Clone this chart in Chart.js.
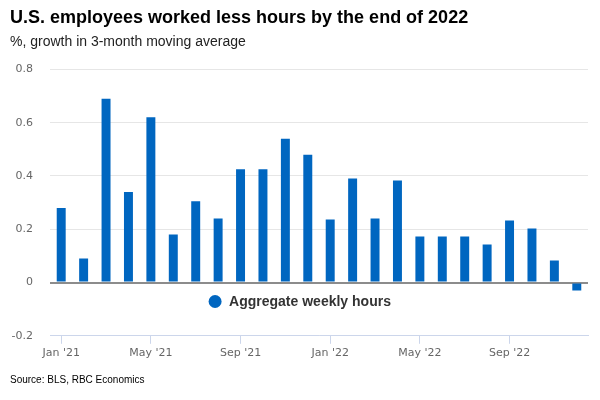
<!DOCTYPE html>
<html>
<head>
<meta charset="utf-8">
<script src="https://cdn.jsdelivr.net/npm/chart.js@4"></script>
<style>
  html, body { margin: 0; padding: 0; background: #fff; }
  #wrap { width: 600px; height: 400px; position: relative; }
</style>
</head>
<body>
<div id="wrap"><canvas id="grafico" width="600" height="400"></canvas></div>
<script>
const meses = [
  "Jan '21", "Feb '21", "Mar '21", "Apr '21", "May '21", "Jun '21",
  "Jul '21", "Aug '21", "Sep '21", "Oct '21", "Nov '21", "Dec '21",
  "Jan '22", "Feb '22", "Mar '22", "Apr '22", "May '22", "Jun '22",
  "Jul '22", "Aug '22", "Sep '22", "Oct '22", "Nov '22", "Dec '22"
];
const horas = [
  0.28, 0.09, 0.69, 0.34, 0.62, 0.18, 0.305, 0.24, 0.425, 0.425, 0.54, 0.48,
  0.237, 0.39, 0.24, 0.383, 0.173, 0.173, 0.173, 0.143, 0.233, 0.203, 0.083, -0.03
];
const yTicks = [-0.2, 0, 0.2, 0.4, 0.6, 0.8];
const serie = "Aggregate weekly hours";
const fuente = "Source: BLS, RBC Economics";
const azul = "#0066c0";

// leyenda dentro del area, debajo de la linea del cero, y la fuente abajo
const extras = {
  id: "extras",
  afterDraw(chart) {
    const c = chart.ctx;
    const y0 = chart.scales.y.getPixelForValue(0) + 19;
    c.save();
    c.font = "bold 14px 'Liberation Sans', Arial, sans-serif";
    const w = c.measureText(serie).width;
    const x = chart.width / 2 - (w + 20) / 2;
    c.fillStyle = azul;
    c.beginPath();
    c.arc(x + 6, y0, 6.5, 0, Math.PI * 2);
    c.fill();
    c.fillStyle = "#333";
    c.textBaseline = "middle";
    c.fillText(serie, x + 20, y0 + 1);
    c.font = "10px 'Liberation Sans', Arial, sans-serif";
    c.fillStyle = "#000";
    c.fillText(fuente, 10, 380);
    c.restore();
  }
};

new Chart(document.getElementById("grafico"), {
  type: "bar",
  data: {
    labels: meses,
    datasets: [{
      label: serie,
      data: horas,
      backgroundColor: azul,
      barPercentage: 0.4,
      categoryPercentage: 1
    }]
  },
  options: {
    responsive: false,
    animation: false,
    layout: { padding: { left: 10, right: 12, top: 0, bottom: 37 } },
    plugins: {
      legend: { display: false },
      tooltip: { enabled: false },
      title: {
        display: true,
        text: "U.S. employees worked less hours by the end of 2022",
        align: "start",
        color: "#000",
        font: { family: "'Liberation Sans', Arial, sans-serif", size: 18, weight: "bold" },
        padding: { top: 7, bottom: 4 }
      },
      subtitle: {
        display: true,
        text: "%, growth in 3-month moving average",
        align: "start",
        color: "#222",
        font: { family: "'Liberation Sans', Arial, sans-serif", size: 14 },
        padding: { top: 1, bottom: 19 }
      }
    },
    scales: {
      x: {
        grid: {
          offset: false,
          drawOnChartArea: false,
          tickLength: 8,
          color: ctx => ctx.index % 4 === 0 ? "#ccd6eb" : "rgba(0,0,0,0)"
        },
        border: { color: "#ccd6eb" },
        ticks: {
          autoSkip: false,
          maxRotation: 0,
          padding: 3,
          color: "#666",
          font: { family: "'DejaVu Sans', sans-serif", size: 11 },
          callback: (v, i) => i % 4 === 0 ? meses[i] : ""
        }
      },
      y: {
        min: -0.2,
        max: 0.8,
        afterBuildTicks: axis => { axis.ticks = yTicks.map(v => ({ value: v })); },
        afterFit: axis => { axis.width = 40; },
        border: { display: false },
        grid: {
          drawTicks: false,
          color: ctx => ctx.tick && ctx.tick.value === 0 ? "#8c8c8c" : "#e6e6e6",
          lineWidth: ctx => ctx.tick && ctx.tick.value === 0 ? 2 : 1
        },
        ticks: {
          padding: 17,
          color: "#666",
          font: { family: "'DejaVu Sans', sans-serif", size: 11 },
          callback: v => String(Math.round(v * 10) / 10)
        }
      }
    }
  },
  plugins: [extras]
});
</script>
</body>
</html>
